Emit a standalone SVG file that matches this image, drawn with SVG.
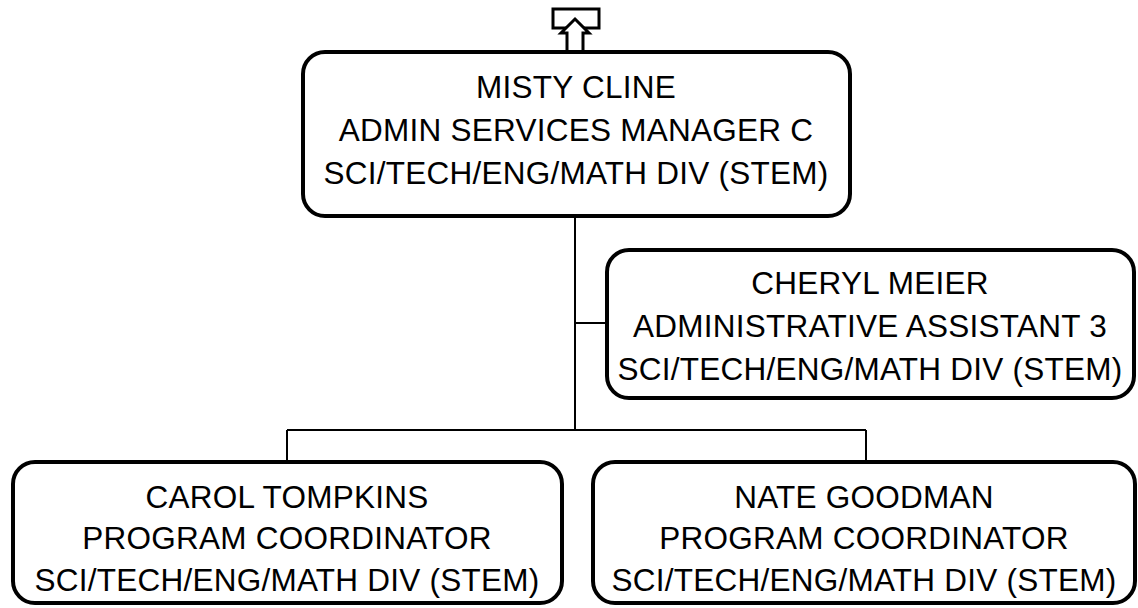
<svg xmlns="http://www.w3.org/2000/svg" width="1138" height="608" viewBox="0 0 1138 608">
<style>
.box{fill:#fff;stroke:#000;stroke-width:4}
.t{font-family:"Liberation Sans",Arial,sans-serif;font-size:31.5px;letter-spacing:0.25px;fill:#000;text-anchor:middle}
.c{fill:none;stroke:#000;stroke-width:2}
</style>
<rect width="1138" height="608" fill="#fff"/>
<g id="connectors">
<path class="c" d="M575 216V430M575 323H607M287 430H866M287 430V462M866 430V462"/>
</g>
<g id="icon">
<rect x="553" y="9" width="46" height="19" fill="#fff" stroke="#000" stroke-width="3"/>
<path d="M575 19L589 33H583V52H567V33H561Z" fill="#fff" stroke="#000" stroke-width="3" stroke-linejoin="miter"/>
</g>
<g id="misty">
<rect class="box" x="303" y="52" width="547" height="164" rx="22"/>
<text class="t" x="576" y="98">MISTY CLINE</text>
<text class="t" x="576" y="141">ADMIN SERVICES MANAGER C</text>
<text class="t" x="576" y="184">SCI/TECH/ENG/MATH DIV (STEM)</text>
</g>
<g id="cheryl">
<rect class="box" x="607" y="250" width="527" height="148" rx="22"/>
<text class="t" x="870" y="294">CHERYL MEIER</text>
<text class="t" x="870" y="337">ADMINISTRATIVE ASSISTANT 3</text>
<text class="t" x="870" y="380">SCI/TECH/ENG/MATH DIV (STEM)</text>
</g>
<g id="carol">
<rect class="box" x="13" y="462" width="549" height="141" rx="22"/>
<text class="t" x="287" y="508">CAROL TOMPKINS</text>
<text class="t" x="287" y="549">PROGRAM COORDINATOR</text>
<text class="t" x="287" y="591">SCI/TECH/ENG/MATH DIV (STEM)</text>
</g>
<g id="nate">
<rect class="box" x="593" y="462" width="542" height="141" rx="22"/>
<text class="t" x="864" y="508">NATE GOODMAN</text>
<text class="t" x="864" y="549">PROGRAM COORDINATOR</text>
<text class="t" x="864" y="591">SCI/TECH/ENG/MATH DIV (STEM)</text>
</g>
</svg>
